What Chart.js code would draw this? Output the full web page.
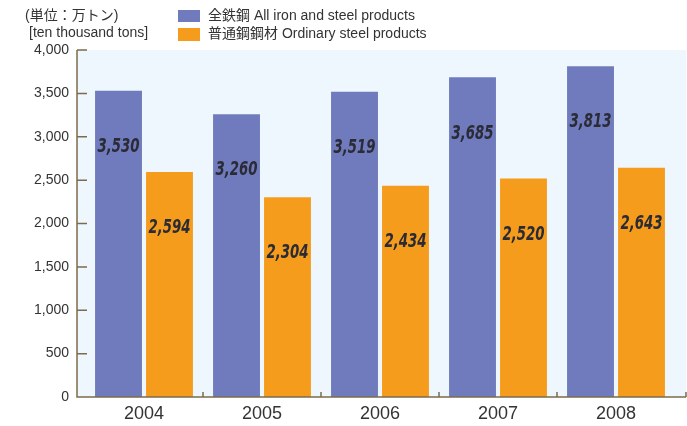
<!DOCTYPE html>
<html>
<head>
<meta charset="utf-8">
<script src="https://cdn.jsdelivr.net/npm/chart.js@4.4.1/dist/chart.umd.min.js"></script>
<style>
  html, body { margin: 0; padding: 0; background: #fff; }
  #wrap { width: 687px; height: 426px; position: relative; }
</style>
</head>
<body>
<div id="wrap"><canvas id="steelChart"></canvas></div>
<script>
const years = ['2004', '2005', '2006', '2007', '2008'];
const allSteel = [3530, 3260, 3519, 3685, 3813];
const ordinarySteel = [2594, 2304, 2434, 2520, 2643];
const yTicks = [0, 500, 1000, 1500, 2000, 2500, 3000, 3500, 4000];

const BLUE = '#6f7bbc';
const ORANGE = '#f69c1d';
const AXIS = '#7d6b4c';
const TEXT = '#333333';

// background, axis lines and inward ticks
const frame = {
    id: 'frame',
    beforeDatasetsDraw(chart) {
        const c = chart.ctx, a = chart.chartArea;
        const left = a.left - 8, right = 686;
        c.save();
        c.fillStyle = '#eef7fe';
        c.fillRect(left, a.top, right - left, a.bottom - a.top);
        c.restore();
    },
    afterDatasetsDraw(chart) {
        const c = chart.ctx, a = chart.chartArea;
        const y = chart.scales.y, x = chart.scales.x;
        const left = a.left - 8, right = 686;
        c.save();
        c.strokeStyle = AXIS;
        c.lineWidth = 1.5;
        c.beginPath();
        c.moveTo(left, a.top);
        c.lineTo(left, a.bottom);
        c.lineTo(right, a.bottom);
        yTicks.forEach(v => {
            const py = y.getPixelForValue(v);
            c.moveTo(left, py);
            c.lineTo(left + 10, py);
        });
        const half = (x.getPixelForValue(1) - x.getPixelForValue(0)) / 2;
        for (let i = 0; i < years.length - 1; i++) {
            const px = x.getPixelForValue(i) + half;
            c.moveTo(px, a.bottom);
            c.lineTo(px, a.bottom - 5);
        }
        c.moveTo(right, a.bottom);
        c.lineTo(right, a.bottom - 5);
        c.stroke();
        c.restore();
    }
};

// value labels inside the bars (squeezed to look condensed)
const barLabels = {
    id: 'barLabels',
    afterDatasetsDraw(chart) {
        const c = chart.ctx;
        c.save();
        c.font = 'italic bold 20px "DejaVu Sans Condensed", "DejaVu Sans", sans-serif';
        c.fillStyle = '#2b2b36';
        c.textAlign = 'center';
        c.textBaseline = 'middle';
        chart.data.datasets.forEach((ds, di) => {
            chart.getDatasetMeta(di).data.forEach((bar, i) => {
                c.save();
                c.translate(bar.x, bar.y + 56);
                c.scale(0.74, 1);
                c.fillText(ds.data[i].toLocaleString('en-US'), 0, 0);
                c.restore();
            });
        });
        c.restore();
    }
};

// unit text and legend in the top-left
const header = {
    id: 'header',
    afterDraw(chart) {
        const c = chart.ctx;
        c.save();
        c.font = '14px "Liberation Sans", Arial, "Noto Sans CJK JP", sans-serif';
        c.fillStyle = TEXT;
        c.textBaseline = 'middle';
        c.fillText('(単位：万トン)', 25, 16);
        c.fillText('[ten thousand tons]', 29, 33);
        c.fillStyle = BLUE;
        c.fillRect(178, 10, 22, 12);
        c.fillStyle = ORANGE;
        c.fillRect(178, 28, 22, 13);
        c.fillStyle = TEXT;
        c.fillText('全鉄鋼 All iron and steel products', 208, 16);
        c.fillText('普通鋼鋼材 Ordinary steel products', 208, 34);
        c.restore();
    }
};

new Chart(document.getElementById('steelChart').getContext('2d'), {
    type: 'bar',
    data: {
        labels: years,
        datasets: [{
            label: '全鉄鋼 All iron and steel products',
            data: allSteel,
            backgroundColor: BLUE,
            categoryPercentage: 0.864,
            barPercentage: 0.92
        }, {
            label: '普通鋼鋼材 Ordinary steel products',
            data: ordinarySteel,
            backgroundColor: ORANGE,
            categoryPercentage: 0.864,
            barPercentage: 0.92
        }]
    },
    options: {
        responsive: true,
        maintainAspectRatio: false,
        animation: false,
        layout: { padding: { top: 50, right: 12, left: 0, bottom: 0 } },
        plugins: {
            legend: { display: false },
            tooltip: { enabled: false }
        },
        scales: {
            x: {
                grid: { display: false, drawTicks: false },
                border: { display: false },
                ticks: {
                    color: TEXT,
                    padding: 6,
                    font: { size: 18, family: '"Liberation Sans", Arial, sans-serif' }
                },
                afterFit(scale) { scale.height = 29; }
            },
            y: {
                min: 0,
                max: 4000,
                grid: { display: false, drawTicks: false },
                border: { display: false },
                afterBuildTicks(scale) { scale.ticks = yTicks.map(v => ({ value: v })); },
                ticks: {
                    color: TEXT,
                    padding: 16,
                    font: { size: 14, family: '"Liberation Sans", Arial, sans-serif' },
                    callback: v => v.toLocaleString('en-US')
                },
                afterFit(scale) { scale.width = 85; }
            }
        }
    },
    plugins: [frame, barLabels, header]
});
</script>
</body>
</html>
